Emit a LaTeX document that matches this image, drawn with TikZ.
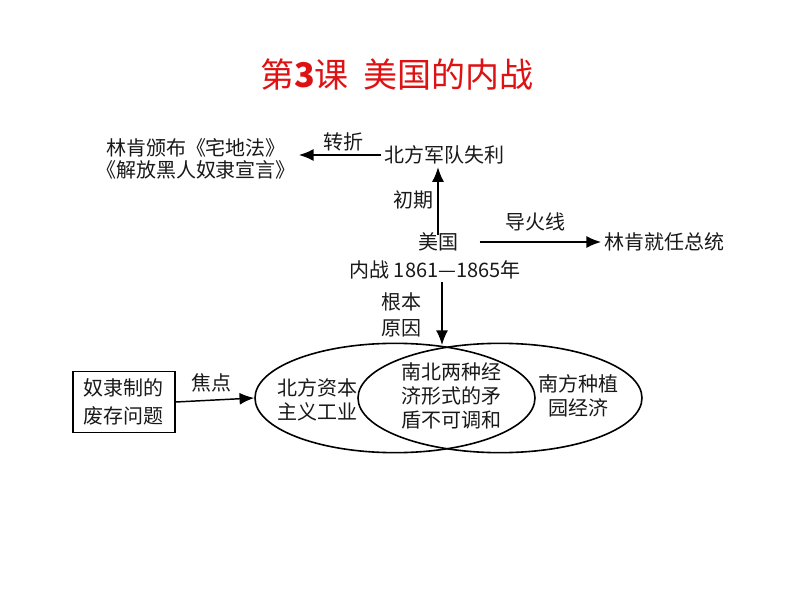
\documentclass[tikz,border=0pt]{standalone}
\usepackage{fontspec}
\usetikzlibrary{arrows.meta,shapes.geometric}
\newfontfamily\cjk{Noto Sans CJK SC}
\definecolor{titlered}{RGB}{222,18,18}
\tikzset{
  txt/.style={font=\cjk\fontsize{15pt}{18pt}\selectfont, inner sep=2pt, align=center, text=black!90},
  lbl/.style={font=\cjk\fontsize{15pt}{18pt}\selectfont, inner sep=1pt, text=black!90},
  arr/.style={line width=1.1pt, -{Latex[length=11pt,width=9pt]}},
  oval/.style={draw, ellipse, line width=1.2pt, inner sep=0pt},
  framebox/.style={draw, line width=1.2pt, minimum width=76.5pt, minimum height=45.75pt}
}
\begin{document}
\begin{tikzpicture}[x=0.75pt,y=-0.75pt]
\useasboundingbox[fill=white] (0,0) rectangle (794,596);
% title
\node[font=\cjk\fontsize{25.5pt}{28pt}\selectfont, text=titlered] (title) at (397,75) {第{\bfseries 3}课\ \ 美国的内战};
% top part
\node[txt, font=\cjk\fontsize{15pt}{16.5pt}\selectfont] (lincoln) at (196,159) {林肯颁布《宅地法》\\《解放黑人奴隶宣言》};
\node[txt] (defeat) at (444,155) {北方军队失利};
\node[txt] (usa1) at (438,242) {美国};
\node[txt] (usa2) at (435,270) {内战 1861—1865年};
\node[txt] (pres) at (664,242) {林肯就任总统};
% arrows top
\draw[arr] (defeat.west) -- (lincoln.east |- defeat.west);
\node[lbl] (zhuanzhe) at (343,142) {转折};
\draw[arr] ([yshift=-4pt]usa1.north) -- (usa1.north |- defeat.south);
\node[lbl] (chuqi) at (413,200) {初期};
\draw[arr] ([xshift=14pt]usa1.east) -- (pres.west);
\node[lbl] (fuse) at (535,222) {导火线};
% ellipses
\node[oval, minimum width=210pt, minimum height=82pt] (north) at (395,398) {};
\node[oval, minimum width=213pt, minimum height=82pt] (south) at (500,398) {};
\coordinate (meet) at (442,345);
\draw[arr] (usa2.south -| meet) -- (meet);
\node[lbl, align=center, font=\cjk\fontsize{15pt}{19.5pt}\selectfont] (cause) at (401,315) {根本\\原因};
\node[txt] (ntext) at (317,400) {北方资本\\主义工业};
\node[txt] (mtext) at (451,396) {南北两种经\\济形式的矛\\盾不可调和};
\node[txt] (stext) at (578,396) {南方种植\\园经济};
% box
\node[framebox, txt, font=\cjk\fontsize{15pt}{21pt}\selectfont] (slave) at (124,402) {奴隶制的\\废存问题};
\draw[arr] (slave.east) -- (north.west);
\node[lbl] (focus) at (211,383) {焦点};
\end{tikzpicture}
\end{document}
